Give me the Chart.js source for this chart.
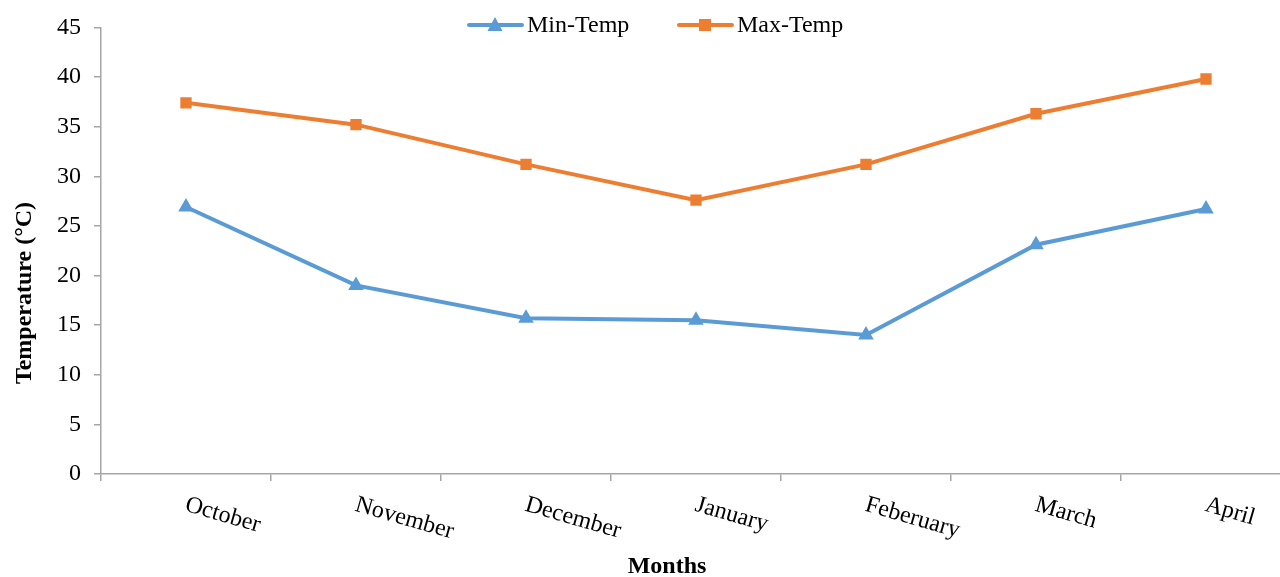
<!DOCTYPE html>
<html>
<head>
<meta charset="utf-8">
<script src="https://cdn.jsdelivr.net/npm/chart.js@4.4.1/dist/chart.umd.min.js"></script>
<style>
  html, body { margin: 0; padding: 0; background: #fff; overflow: hidden; }
</style>
</head>
<body>
<canvas id="mycanvas" width="1280" height="577"></canvas>
<script>
var months = ['October', 'November', 'December', 'January', 'Feberuary', 'March', 'April'];
var minTemp = [26.9, 19.0, 15.7, 15.5, 14.0, 23.1, 26.7];
var maxTemp = [37.4, 35.2, 31.2, 27.6, 31.2, 36.3, 39.8];
var yTicks = [0, 5, 10, 15, 20, 25, 30, 35, 40, 45];

var serif = "'Liberation Serif', 'Times New Roman', serif";
var blue = '#5B9BD5';
var orange = '#ED7D31';
var axisGray = '#a6a6a6';

// the original plot runs a little past the right edge of the picture
var widenPlot = {
  id: 'widenPlot',
  afterLayout: function(chart) {
    var xs = chart.scales.x;
    xs.right = 1291;
    xs.width = xs.right - xs.left;
    chart.chartArea.right = 1291;
    chart.chartArea.width = 1291 - chart.chartArea.left;
    xs.configure();
  }
};

// rotated month labels, axis titles and legend drawn by hand
var extras = {
  id: 'extras',
  afterDraw: function(chart) {
    var ctx = chart.ctx;
    var xs = chart.scales.x;
    var area = chart.chartArea;
    ctx.save();
    ctx.fillStyle = '#000';
    ctx.font = '24px ' + serif;
    ctx.textAlign = 'left';
    ctx.textBaseline = 'top';
    for (var i = 0; i < months.length; i++) {
      var px = xs.getPixelForValue(i);
      ctx.save();
      ctx.translate(px + 3, area.bottom + 19);
      ctx.rotate(16 * Math.PI / 180);
      ctx.fillText(months[i], 0, 0);
      ctx.restore();
    }
    ctx.font = 'bold 24px ' + serif;
    ctx.textAlign = 'center';
    ctx.textBaseline = 'middle';
    ctx.fillText('Months', 667, 567);

    ctx.save();
    ctx.translate(25, 293);
    ctx.rotate(-Math.PI / 2);
    ctx.fillText('Temperature (°C)', 0, 0);
    ctx.restore();

    // legend
    var items = [
      {text: 'Min-Temp', color: blue, shape: 'tri', x: 469},
      {text: 'Max-Temp', color: orange, shape: 'sq', x: 679}
    ];
    var ly = 25;
    items.forEach(function(it) {
      ctx.strokeStyle = it.color;
      ctx.lineWidth = 4;
      ctx.lineCap = 'round';
      ctx.beginPath();
      ctx.moveTo(it.x, ly);
      ctx.lineTo(it.x + 53, ly);
      ctx.stroke();
      ctx.fillStyle = it.color;
      var cx = it.x + 26;
      if (it.shape === 'tri') {
        ctx.beginPath();
        ctx.moveTo(cx, ly - 8);
        ctx.lineTo(cx + 7.5, ly + 6);
        ctx.lineTo(cx - 7.5, ly + 6);
        ctx.closePath();
        ctx.fill();
      } else {
        ctx.fillRect(cx - 6, ly - 6, 12, 12);
      }
      ctx.fillStyle = '#000';
      ctx.font = '24px ' + serif;
      ctx.textAlign = 'left';
      ctx.fillText(it.text, it.x + 58, ly + 1);
    });
    ctx.restore();
  }
};

var ctx = document.getElementById('mycanvas');
var myChart = new Chart(ctx, {
  type: 'line',
  data: {
    labels: months,
    datasets: [
      {
        label: 'Min-Temp',
        data: minTemp,
        borderColor: blue,
        backgroundColor: blue,
        borderWidth: 4,
        pointStyle: 'triangle',
        pointRadius: 9,
        pointBorderWidth: 0,
        tension: 0
      },
      {
        label: 'Max-Temp',
        data: maxTemp,
        borderColor: orange,
        backgroundColor: orange,
        borderWidth: 4,
        pointStyle: 'rect',
        pointRadius: 8,
        pointBorderWidth: 0,
        tension: 0
      }
    ]
  },
  options: {
    responsive: false,
    animation: false,
    layout: {
      padding: {top: 27, left: 0, right: 0, bottom: 0}
    },
    plugins: {
      legend: { display: false },
      tooltip: { enabled: false }
    },
    scales: {
      x: {
        offset: true,
        grid: {
          offset: true,
          drawOnChartArea: false,
          drawTicks: true,
          tickLength: 7,
          color: axisGray,
          lineWidth: 1.5
        },
        border: { color: axisGray, width: 1.5 },
        ticks: { display: false },
        afterFit: function(scale) { scale.height = 103; }
      },
      y: {
        min: 0,
        max: 45,
        afterBuildTicks: function(scale) {
          scale.ticks = yTicks.map(function(v) { return {value: v}; });
        },
        grid: {
          drawOnChartArea: false,
          tickLength: 7,
          color: axisGray,
          lineWidth: 1.5
        },
        border: { color: axisGray, width: 1.5 },
        ticks: {
          color: '#000',
          padding: 13,
          font: { family: serif, size: 24 }
        },
        afterFit: function(scale) { scale.width = 101; }
      }
    }
  },
  plugins: [widenPlot, extras]
});
</script>
</body>
</html>
